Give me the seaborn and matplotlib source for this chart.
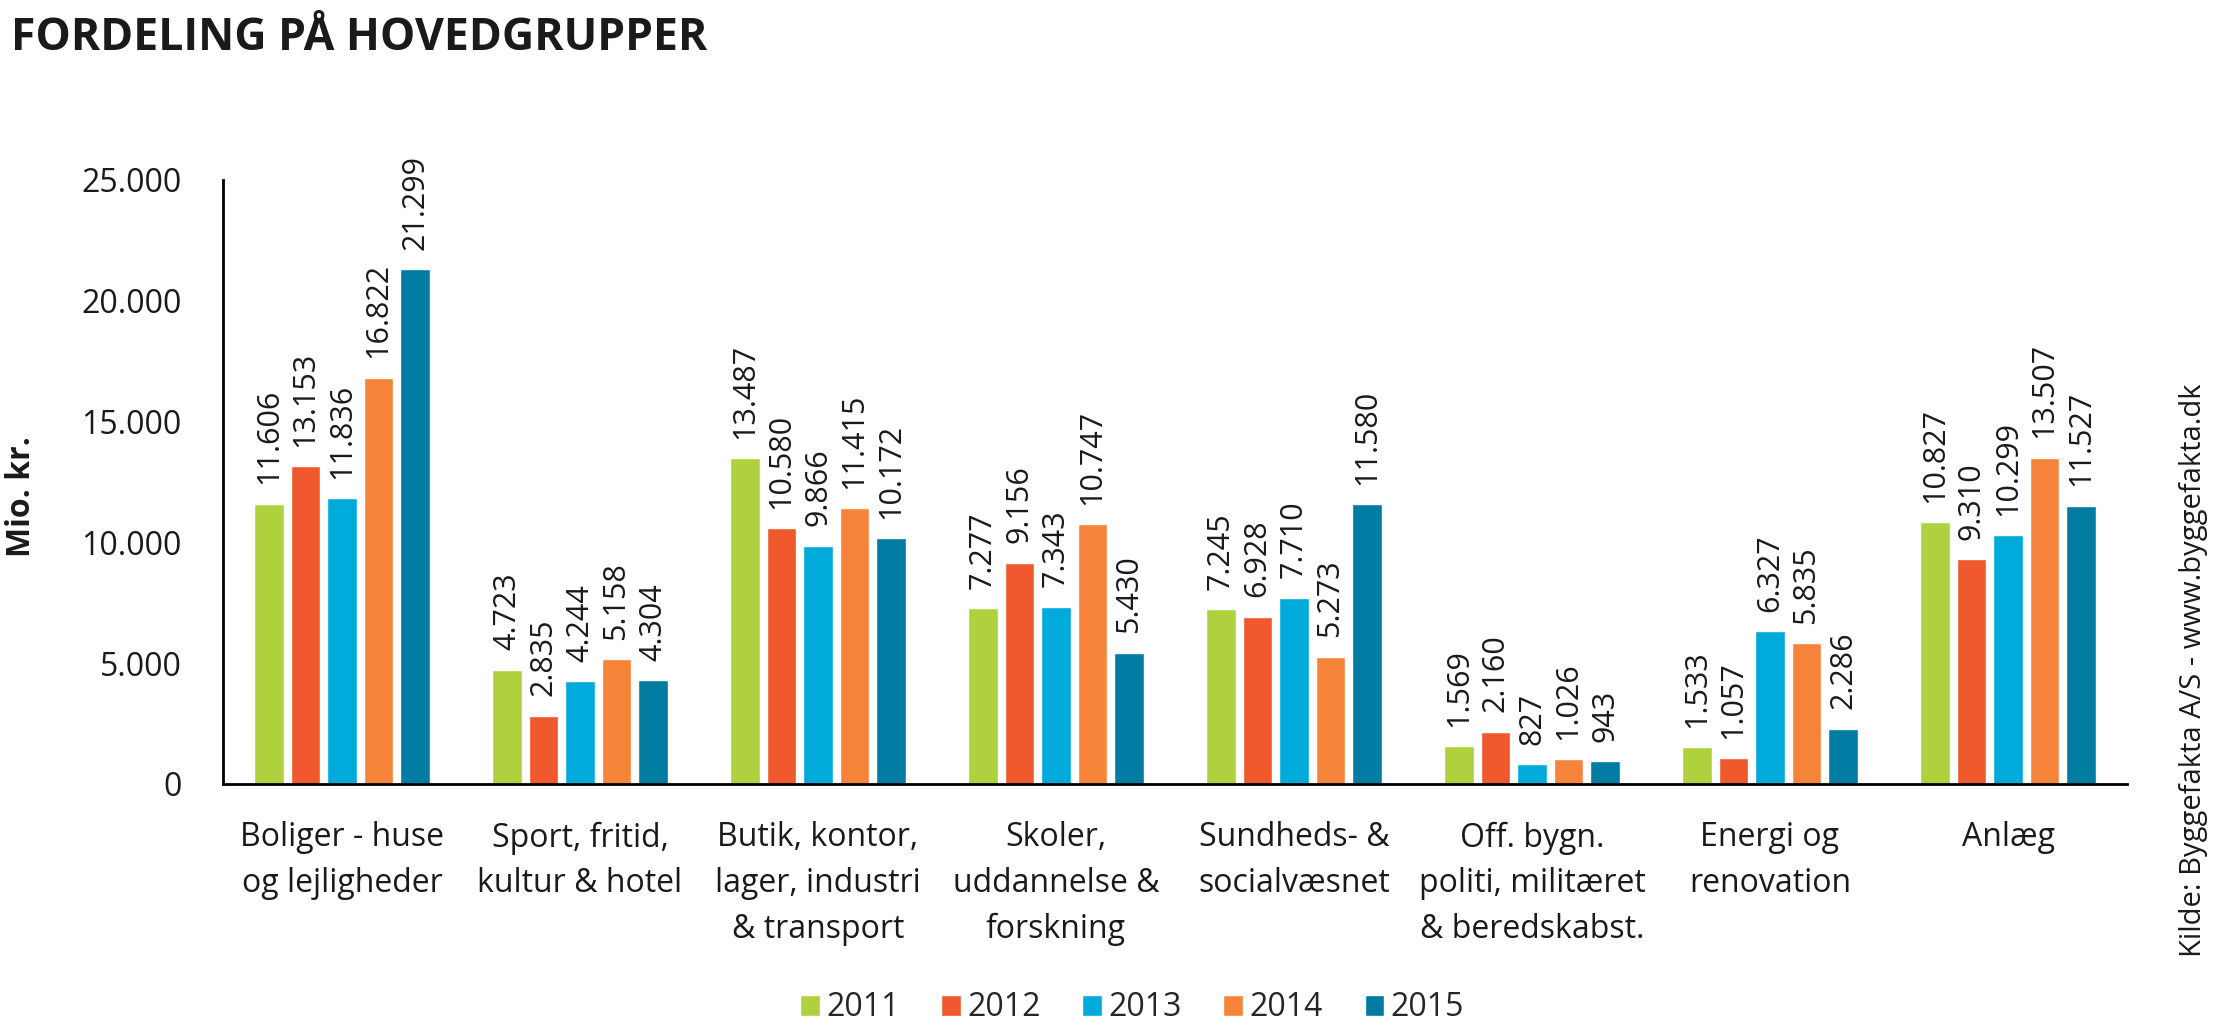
import matplotlib
matplotlib.use('Agg')
import matplotlib.pyplot as plt
import seaborn as sns
import pandas as pd
import matplotlib.ticker as mticker

categories = ['Boliger - huse\nog lejligheder', 'Sport, fritid,\nkultur & hotel',
              'Butik, kontor,\nlager, industri\n& transport', 'Skoler,\nuddannelse &\nforskning',
              'Sundheds- &\nsocialvæsnet', 'Off. bygn.\npoliti, militæret\n& beredskabst.',
              'Energi og\nrenovation', 'Anlæg']
years = ['2011', '2012', '2013', '2014', '2015']
v2011 = [11606, 4723, 13487, 7277, 7245, 1569, 1533, 10827]
v2012 = [13153, 2835, 10580, 9156, 6928, 2160, 1057, 9310]
v2013 = [11836, 4244, 9866, 7343, 7710, 827, 6327, 10299]
v2014 = [16822, 5158, 11415, 10747, 5273, 1026, 5835, 13507]
v2015 = [21299, 4304, 10172, 5430, 11580, 943, 2286, 11527]
colors = ['#B0D13E', '#EF592D', '#00AADB', '#F6833A', '#007CA3']

rows = []
for yr, vals in zip(years, [v2011, v2012, v2013, v2014, v2015]):
    for c, v in zip(categories, vals):
        rows.append({'kategori': c, 'aar': yr, 'værdi': v})
df = pd.DataFrame(rows)


def dk(v):
    return f"{v:,.0f}".replace(",", ".")


sns.set_style('white')
plt.rcParams['font.family'] = ['Open Sans', 'DejaVu Sans']

fig = plt.figure(figsize=(22.19, 10.29), dpi=100)
bot, top = 784, 180
ax = fig.add_axes([223 / 2219, 1 - bot / 1029, (2127 - 223) / 2219, (bot - top) / 1029])

sns.barplot(data=df, x='kategori', y='værdi', hue='aar', palette=colors,
            width=0.767, gap=0.2, ax=ax, saturation=1, legend=True)

for cont, vals in zip(ax.containers, [v2011, v2012, v2013, v2014, v2015]):
    ax.bar_label(cont, labels=[dk(v) for v in vals], rotation=90, padding=14,
                 fontsize=22, color='#1a1a1a')

ax.set_ylim(0, 25000)
ax.set_xlim(-0.5, len(categories) - 0.5)
ax.yaxis.set_major_locator(mticker.MultipleLocator(5000))
ax.yaxis.set_major_formatter(mticker.FuncFormatter(lambda v, p: dk(v)))
ax.tick_params(axis='y', length=0, pad=30, labelsize=23, labelcolor='#1a1a1a')
ax.tick_params(axis='x', length=0, pad=27, labelsize=23, labelcolor='#1a1a1a')
for lab in ax.get_xticklabels():
    lab.set_linespacing(1.5)

ax.set_xlabel('')
ax.set_ylabel('Mio. kr.', fontsize=23, fontweight='bold', color='#1a1a1a')
ax.yaxis.set_label_coords(-(223 - 38) / (2127 - 223), (bot - 497) / (bot - top))

sns.despine(ax=ax)
for s in ['left', 'bottom']:
    ax.spines[s].set_color('black')
    ax.spines[s].set_linewidth(2)

handles, labels = ax.get_legend_handles_labels()
ax.get_legend().remove()
fig.legend(handles, labels, loc='center', bbox_to_anchor=(1132 / 2219, 1 - 1008 / 1029),
           ncol=5, frameon=False, fontsize=23, handlelength=0.62, handleheight=0.62,
           handletextpad=0.2, columnspacing=1.3)

fig.text(11 / 2219, 1 - 50 / 1029, 'FORDELING PÅ HOVEDGRUPPER', fontsize=32,
         fontweight='bold', color='#1a1a1a', va='baseline', ha='left')
fig.text(2194 / 2219, 1 - 670 / 1029, 'Kilde: Byggefakta A/S - www.byggefakta.dk',
         fontsize=21, rotation=90, ha='center', va='center', color='#1a1a1a')

fig.savefig('out.png', dpi=100)
